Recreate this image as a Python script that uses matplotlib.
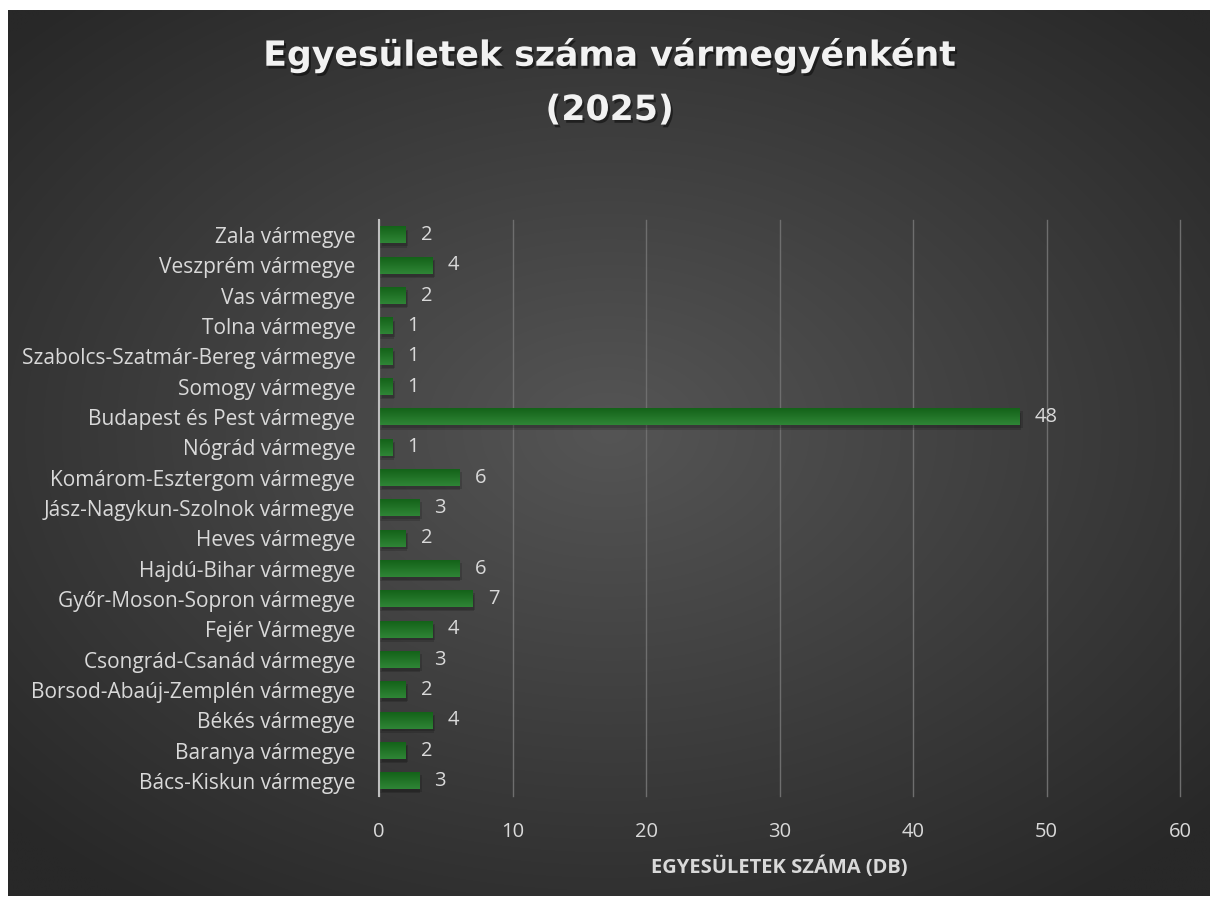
#!/usr/bin/env python3
"""Horizontal bar chart: number of associations per county (2025)."""
import numpy as np
import matplotlib

matplotlib.use("Agg")
import matplotlib.pyplot as plt
import matplotlib.patheffects as pe

counties = [
    "Bács-Kiskun vármegye",
    "Baranya vármegye",
    "Békés vármegye",
    "Borsod-Abaúj-Zemplén vármegye",
    "Csongrád-Csanád vármegye",
    "Fejér Vármegye",
    "Győr-Moson-Sopron vármegye",
    "Hajdú-Bihar vármegye",
    "Heves vármegye",
    "Jász-Nagykun-Szolnok vármegye",
    "Komárom-Esztergom vármegye",
    "Nógrád vármegye",
    "Budapest és Pest vármegye",
    "Somogy vármegye",
    "Szabolcs-Szatmár-Bereg vármegye",
    "Tolna vármegye",
    "Vas vármegye",
    "Veszprém vármegye",
    "Zala vármegye",
]
counts = [3, 2, 4, 2, 3, 4, 7, 6, 2, 3, 6, 1, 48, 1, 1, 1, 2, 4, 2]
x_ticks = [0, 10, 20, 30, 40, 50, 60]

TEXT = "#d9d9d9"
GRID = "#6e6e6e"
BAR = "#1a6e20"

W, H = 1219, 906
fig = plt.figure(figsize=(W / 100, H / 100), dpi=100)
fig.patch.set_facecolor("white")

# dark panel with radial gradient
bg = fig.add_axes([8 / W, 10 / H, 1202 / W, 886 / H])
bg.axis("off")
yy, xx = np.mgrid[-1:1:400j, -1:1:540j]
r = np.sqrt((xx * 0.95) ** 2 + ((yy + 0.05) * 1.0) ** 2)
r = np.clip(r / 1.3, 0, 1)
light = np.array([0x55, 0x55, 0x55]) / 255
dark = np.array([0x28, 0x28, 0x28]) / 255
img = light[None, None, :] * (1 - r[..., None]) + dark[None, None, :] * r[..., None]
bg.imshow(img, aspect="auto", extent=[0, 1, 0, 1], interpolation="bilinear")
bg.set_xlim(0, 1)
bg.set_ylim(0, 1)

title_fx = [pe.withSimplePatchShadow(offset=(1.5, -2), shadow_rgbFace="black", alpha=0.45)]
fig.text(0.5, 1 - 55 / H, "Egyesületek száma vármegyénként", ha="center", va="center",
         fontsize=25, fontweight="bold", color="#f2f2f2", family="DejaVu Sans",
         path_effects=title_fx)
fig.text(0.5, 1 - 110 / H, "(2025)", ha="center", va="center",
         fontsize=25, fontweight="bold", color="#f2f2f2", family="DejaVu Sans",
         path_effects=title_fx)

ax = fig.add_axes([379 / W, 1 - 796 / H, (1180 - 379) / W, (796 - 220) / H])
ax.set_facecolor("none")
y = np.arange(len(counties))
bh = 0.55
bars = ax.barh(y, counts, height=bh, color=BAR, zorder=3)
for b in bars:
    b.set_path_effects([pe.withSimplePatchShadow(offset=(1, -3), shadow_rgbFace="black", alpha=0.15),
                        pe.withSimplePatchShadow(offset=(2, -2), shadow_rgbFace="black", alpha=0.15),
                        pe.Normal()])

# vertical gradient on each bar: lighter top, darker bottom
grad = np.linspace(0, 1, 32)[:, None]
top = np.array([0x2f, 0x85, 0x36]) / 255
bot = np.array([0x14, 0x63, 0x19]) / 255
gimg = top[None, None, :] * (1 - grad[..., None]) + bot[None, None, :] * grad[..., None]
gimg = np.repeat(gimg, 2, axis=1)
for yi, v in zip(y, counts):
    ax.imshow(gimg, extent=[0, v, yi + bh / 2, yi - bh / 2], aspect="auto",
              interpolation="bilinear", zorder=3.5, origin="upper")

for yi, v in zip(y, counts):
    ax.annotate(str(v), (v, yi), xytext=(11, 0), textcoords="offset points",
                ha="left", va="center", fontsize=14.5, color=TEXT, family="Open Sans")

ax.set_xlim(0, 60)
ax.set_ylim(-0.5, len(counties) - 0.5)
ax.set_xticks(x_ticks)
ax.set_yticks(y)
ax.set_yticklabels(counties, fontsize=15, color=TEXT, family="Open Sans")
ax.tick_params(axis="x", labelsize=14.5, labelcolor=TEXT, length=0, pad=19)
ax.tick_params(axis="y", length=0, pad=17)
for lab in ax.get_xticklabels():
    lab.set_family("Open Sans")
ax.grid(axis="x", color=GRID, linewidth=1.0, zorder=0)
for gl in ax.get_xgridlines():
    gl.set_clip_on(False)
for s in ["top", "right", "bottom"]:
    ax.spines[s].set_visible(False)
ax.spines["left"].set_color("#bfbfbf")
ax.spines["left"].set_linewidth(1.5)
ax.spines["left"].set_zorder(4)
ax.set_xlabel("EGYESÜLETEK SZÁMA (DB)", fontsize=14.5, fontweight="bold",
              color=TEXT, family="Open Sans", labelpad=10)

fig.savefig("out.png", dpi=100, facecolor="white")
